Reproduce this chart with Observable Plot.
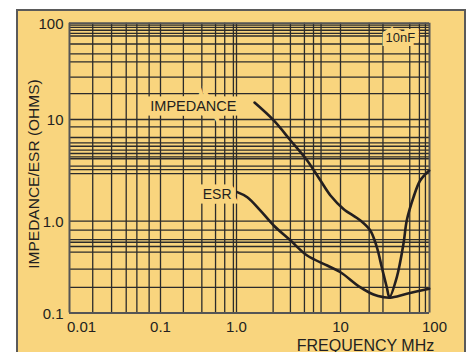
<!DOCTYPE html>
<html><head><meta charset="utf-8">
<script src="https://cdn.jsdelivr.net/npm/d3@7"></script>
<script src="https://cdn.jsdelivr.net/npm/@observablehq/plot@0.6"></script>
<style>
html,body{margin:0;padding:0;background:#fff;}
#wrap{position:relative;width:473px;height:352px;overflow:hidden;font-family:"Liberation Sans",Arial,sans-serif;}
#panel{position:absolute;left:16px;top:9px;width:446px;height:360px;background:#F9D57E;border:2px solid #5a5a5a;}
#chart{position:absolute;left:0;top:0;}
</style></head>
<body><div id="wrap"><div id="panel"></div><div id="chart"></div></div>
<script>
// Impedance curve (frequency MHz, ohms)
const impFreq = [1.49, 2.28, 3.31, 4.78, 6.42, 8.01, 10.8, 16.6, 21.6, 25.6, 29.1, 33.1, 35.5, 42.9, 51.0, 55.6, 66.1, 78.6, 99.3];
const impOhms = [15.0, 9.8, 6.22, 3.95, 2.51, 1.79, 1.32, 1.02, 0.792, 0.521, 0.315, 0.191, 0.149, 0.245, 0.567, 1.02, 1.72, 2.51, 3.15];
// ESR curve
const esrFreq = [1.016, 1.27, 1.70, 2.28, 3.31, 4.78, 7.45, 10, 16.6, 23.5, 30.4, 36.2, 55.6, 99.3];
const esrOhms = [1.93, 1.72, 1.27, 0.898, 0.616, 0.423, 0.329, 0.278, 0.191, 0.159, 0.149, 0.147, 0.162, 0.184];
// grid lines (as drawn on the original sheet)
const xGrid = [0.018, 0.029, 0.042, 0.055, 0.075, 0.1, 0.2, 0.35, 0.53, 0.7, 0.91, 1, 2.25, 3.3, 4.5, 5.5, 6.5, 10, 21, 30, 60, 77, 90];
const yGrid = [95.3, 90.3, 84.5, 78.4, 73.6, 60.8, 48, 39.7, 27.6, 18.6, 10, 8.48, 6.65, 5.9, 5.46, 4.99, 4.63, 4.3, 4.11, 3.48, 3.22, 2.94, 1, 0.8, 0.63, 0.59, 0.53, 0.46, 0.3, 0.19];
// axis ticks
const xDecades = [0.01, 0.1, 1, 10, 100];
const xTickLabels = ["0.01", "0.1", "1.0", "10", "100"];
const yDecades = [0.1, 1, 10, 100];
const yTickLabels = ["0.1", "1.0", "10", "100"];

const imp = impFreq.map((f, i) => ({f, z: impOhms[i]}));
const esr = esrFreq.map((f, i) => ({f, z: esrOhms[i]}));
const xt = xDecades.map((v, i) => ({v, t: xTickLabels[i]}));
const yt = yDecades.map((v, i) => ({v, t: yTickLabels[i]}));

const ink = "#231f20";
const grid = "#2b2b2b";
const bg = "#F9D57E";
const font = "'Liberation Sans', Arial, sans-serif";

const chart = Plot.plot({
  width: 473,
  height: 352,
  marginLeft: 69, marginRight: 44, marginTop: 23, marginBottom: 40,
  style: {background: "transparent", fontFamily: font, overflow: "visible"},
  x: {type: "log", domain: xDecades, range: [69, 160, 236, 340, 429], axis: null},
  y: {type: "log", domain: yDecades, range: [312.5, 220.7, 119, 22.7], axis: null},
  marks: [
    Plot.ruleX(xGrid, {x: d => d, y1: 0.1, y2: 100, stroke: grid, strokeWidth: 1.3}),
    Plot.ruleY(yGrid, {y: d => d, x1: 0.01, x2: 100, stroke: grid, strokeWidth: 1.3}),
    Plot.ruleX([0.01, 100], {x: d => d, y1: 0.1, y2: 100, stroke: "#555", strokeWidth: 2}),
    Plot.ruleY([0.1, 100], {y: d => d, x1: 0.01, x2: 100, stroke: "#555", strokeWidth: 2}),
    Plot.line(imp, {x: "f", y: "z", stroke: ink, strokeWidth: 2.6, curve: "catmull-rom"}),
    Plot.line(esr, {x: "f", y: "z", stroke: ink, strokeWidth: 2.6, curve: "catmull-rom"}),
    // curve labels with background halo
    Plot.text(["IMPEDANCE"], {x: 1, y: 13.6, text: d => d, textAnchor: "end", dx: 0, fontSize: 14.5, fill: ink, stroke: bg, strokeWidth: 9, strokeLinejoin: "miter"}),
    Plot.text(["ESR"], {x: 1, y: 1.83, text: d => d, textAnchor: "end", dx: -5, fontSize: 14, fill: ink, stroke: bg, strokeWidth: 9, strokeLinejoin: "miter"}),
    Plot.text(["10nF"], {x: 47, y: 70.9, text: d => d, fontSize: 13, fill: ink, stroke: bg, strokeWidth: 8, strokeLinejoin: "miter"}),
    // y tick labels
    Plot.text(yt, {x: 0.01, y: "v", text: "t", textAnchor: "end", dx: -6, dy: 1, fontSize: 15, fill: ink}),
    // x tick labels
    Plot.text(xt.slice(1, 4), {x: "v", y: 0.1, text: "t", dy: 14, fontSize: 15, fill: ink}),
    Plot.text(xt.slice(0, 1), {x: "v", y: 0.1, text: "t", dy: 14, dx: 12, fontSize: 15, fill: ink}),
    Plot.text(xt.slice(4), {x: "v", y: 0.1, text: "t", dy: 14, dx: 5, fontSize: 15, fill: ink}),
    // axis titles
    Plot.text(["IMPEDANCE/ESR (OHMS)"], {frameAnchor: "left", textAnchor: "middle", lineAnchor: "middle", text: d => d, rotate: -90, dx: -35, dy: 6, fontSize: 15.5, fill: ink}),
    Plot.text(["FREQUENCY MHz"], {frameAnchor: "bottom", textAnchor: "middle", lineAnchor: "bottom", text: d => d, dx: 116, dy: 38, fontSize: 16, fill: ink})
  ]
});
document.getElementById("chart").appendChild(chart);
</script>
</body></html>
